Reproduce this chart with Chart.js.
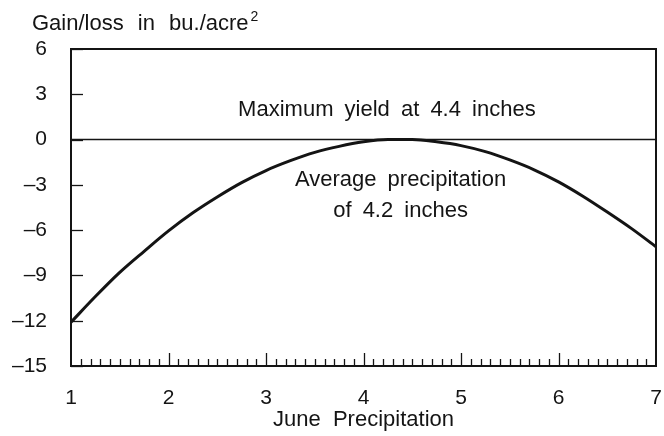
<!DOCTYPE html>
<html>
<head>
<meta charset="utf-8">
<script src="https://cdn.jsdelivr.net/npm/chart.js@4.4.0/dist/chart.umd.min.js"></script>
<style>
    html, body { margin: 0; padding: 0; background: #fff; }
    #wrap { width: 664px; height: 436px; }
</style>
</head>
<body>
<div id="wrap"><canvas id="chart"></canvas></div>
<script>
// DONNÉES
const precipitation = [1, 1.25, 1.5, 1.75, 2, 2.25, 2.5, 2.75, 3, 3.25, 3.5, 3.75, 4, 4.25, 4.5, 4.75, 5, 5.25, 5.5, 5.75, 6, 6.25, 6.5, 6.75, 7];
const gainLoss = [-12.1, -10.4, -8.8, -7.4, -6.05, -4.85, -3.8, -2.85, -2.05, -1.4, -0.85, -0.45, -0.15, 0, 0, -0.15, -0.4, -0.8, -1.35, -2.0, -2.8, -3.75, -4.8, -5.9, -7.1];
const maxYieldX = [1, 7];
const maxYieldY = [0, 0];
const yTicks = [6, 3, 0, -3, -6, -9, -12, -15];
const xTicks = [1, 2, 3, 4, 5, 6, 7];
const minorStep = 0.1;

// TEXTES ANNOTÉS (ANCRÉS EN COORDONNÉES DU GRAPHIQUE)
const notes = [
    { text: "Maximum yield at 4.4 inches", x: 4.24, y: 1.95 },
    { text: "Average precipitation", x: 4.38, y: -2.7 },
    { text: "of 4.2 inches", x: 4.38, y: -4.75 }
];

const INK = "#141414";
const FONT = "'Liberation Sans', Arial, sans-serif";

// PLUGIN : CADRE, PETITES GRADUATIONS INTÉRIEURES, TITRE ET ANNOTATIONS
const framePlugin = {
    id: "frame",
    afterDatasetsDraw(chart) {
        const { ctx, chartArea: a, scales: { x, y } } = chart;
        ctx.save();
        ctx.strokeStyle = INK;
        ctx.lineWidth = 2;
        ctx.strokeRect(a.left, a.top, a.right - a.left, a.bottom - a.top);

        // graduations de l'axe des x (vers le haut)
        ctx.lineWidth = 1.3;
        const n = Math.round((xTicks[xTicks.length - 1] - xTicks[0]) / minorStep);
        for (let i = 1; i < n; i++) {
            const v = xTicks[0] + i * minorStep;
            const px = Math.round(x.getPixelForValue(v)) + 0.5;
            const major = i % 10 === 0;
            ctx.beginPath();
            ctx.moveTo(px, a.bottom);
            ctx.lineTo(px, a.bottom - (major ? 13 : 7));
            ctx.stroke();
        }

        // graduations de l'axe des y (vers la droite)
        yTicks.forEach(v => {
            const py = Math.round(y.getPixelForValue(v)) + 0.5;
            ctx.beginPath();
            ctx.moveTo(a.left, py);
            ctx.lineTo(a.left + 12, py);
            ctx.stroke();
        });

        // textes
        ctx.fillStyle = INK;
        ctx.font = "22px " + FONT;
        ctx.textAlign = "center";
        ctx.textBaseline = "middle";
        ctx.wordSpacing = "5px";
        notes.forEach(nt => {
            ctx.fillText(nt.text, x.getPixelForValue(nt.x), y.getPixelForValue(nt.y));
        });

        ctx.textAlign = "left";
        ctx.textBaseline = "alphabetic";
        ctx.wordSpacing = "8px";
        ctx.fillText("Gain/loss in bu./acre", 32, 30);
        const w = ctx.measureText("Gain/loss in bu./acre").width;
        ctx.font = "14px " + FONT;
        ctx.fillText("2", 32 + w + 2, 21);
        ctx.restore();
    }
};

const canvas = document.getElementById("chart");

new Chart(canvas, {
    type: "line",
    data: {
        datasets: [
            {
                data: precipitation.map((p, i) => ({ x: p, y: gainLoss[i] })),
                borderColor: INK,
                borderWidth: 3,
                pointRadius: 0,
                cubicInterpolationMode: "monotone",
                fill: false
            },
            {
                data: maxYieldX.map((p, i) => ({ x: p, y: maxYieldY[i] })),
                borderColor: INK,
                borderWidth: 1.5,
                pointRadius: 0,
                fill: false
            }
        ]
    },
    options: {
        responsive: true,
        maintainAspectRatio: false,
        animation: false,
        layout: {
            padding: { top: 49, right: 8, left: 0, bottom: 0 }
        },
        plugins: {
            legend: { display: false },
            tooltip: { enabled: false }
        },
        scales: {
            x: {
                type: "linear",
                min: xTicks[0],
                max: xTicks[xTicks.length - 1],
                afterBuildTicks: s => { s.ticks = xTicks.map(v => ({ value: v })); },
                afterFit: s => { s.height = 70; s.paddingLeft = 0; s.paddingRight = 0; },
                grid: { display: false, drawTicks: false, tickLength: 0 },
                border: { display: false },
                ticks: {
                    color: INK,
                    padding: 20,
                    font: { family: FONT, size: 21 }
                },
                title: {
                    display: true,
                    text: "June  Precipitation",
                    color: INK,
                    padding: { top: 0, bottom: 3 },
                    font: { family: FONT, size: 22 }
                }
            },
            y: {
                type: "linear",
                min: yTicks[yTicks.length - 1],
                max: yTicks[0],
                afterBuildTicks: s => { s.ticks = yTicks.map(v => ({ value: v })); },
                afterFit: s => { s.width = 71; s.paddingTop = 0; s.paddingBottom = 0; },
                grid: { display: false, drawTicks: false, tickLength: 0 },
                border: { display: false },
                ticks: {
                    color: INK,
                    padding: 24,
                    font: { family: FONT, size: 21 },
                    callback: v => (v < 0 ? "\u2013" + Math.abs(v) : String(v))
                }
            }
        }
    },
    plugins: [framePlugin]
});
</script>
</body>
</html>
